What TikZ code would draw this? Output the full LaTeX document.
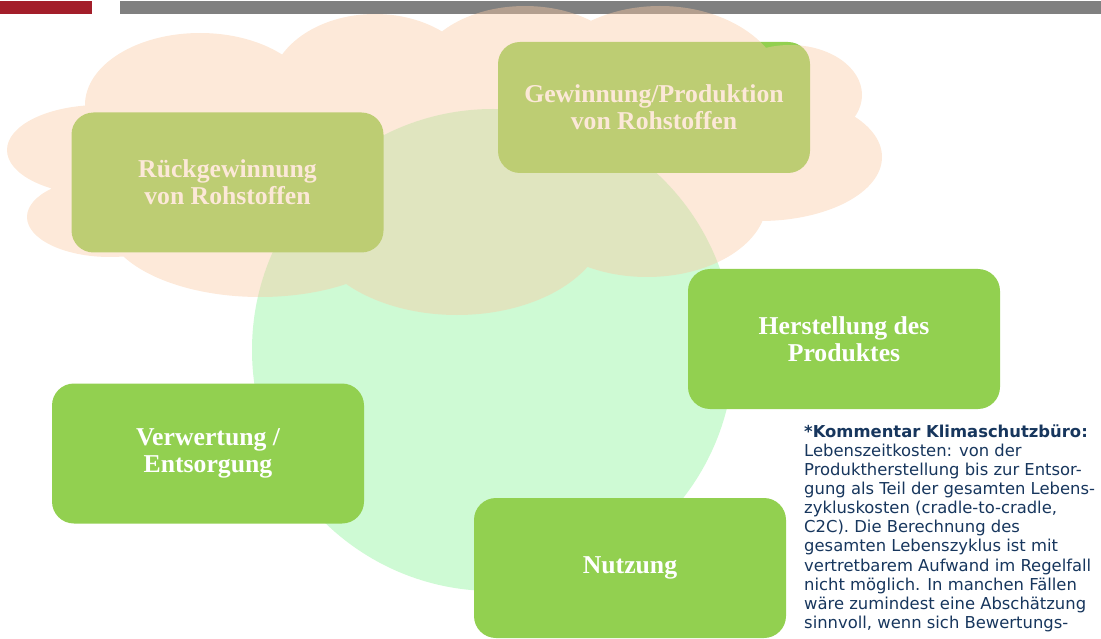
\documentclass[tikz,border=0pt]{standalone}
\usepackage{fontspec}
\setmainfont{Liberation Serif}
\newfontfamily\commentfont{DejaVu Sans}
\definecolor{redbar}{RGB}{163,30,42}
\definecolor{graybar}{RGB}{128,128,128}
\definecolor{circlecol}{RGB}{206,250,212}
\definecolor{boxgreen}{RGB}{146,208,80}
\definecolor{cloudcol}{RGB}{250,202,164}
\definecolor{navy}{RGB}{23,54,93}
\tikzset{
  stagebox/.style={fill=boxgreen, rounded corners=22pt, minimum width=312pt,
    minimum height=140pt, inner sep=0pt, align=center, text=white,
    font=\fontsize{25.7}{27}\selectfont\bfseries},
  bar/.style={draw=none},
}
\begin{document}
\begin{tikzpicture}[x=1pt,y=-1pt]
\useasboundingbox (0,0) rectangle (1101,639);
% top bars
\fill[redbar] (0,1) rectangle (92,14);
\fill[graybar] (120,1) rectangle (1101,14);
% circle
\fill[circlecol] (493,350) circle [radius=241];
% upper boxes (beneath the cloud)
\node[stagebox, minimum height=131pt] (gew) at (654,107.5) {Gewinnung/Produktion\\von Rohstoffen};
\node[stagebox] (rueck) at (227.5,182.5) {Rückgewinnung\\von Rohstoffen};
% cloud
\fill[cloudcol, fill opacity=0.42]
  (200,105) ellipse [x radius=115, y radius=72]
  (375,90) ellipse [x radius=105, y radius=76]
  (525,80) ellipse [x radius=110, y radius=74]
  (660,95) ellipse [x radius=125, y radius=89]
  (790,95) ellipse [x radius=72, y radius=50]
  (760,157) ellipse [x radius=122, y radius=64]
  (647,200) ellipse [x radius=120, y radius=77]
  (457,220) ellipse [x radius=150, y radius=95]
  (260,220) ellipse [x radius=155, y radius=77]
  (110,217) ellipse [x radius=83, y radius=40]
  (100,150) ellipse [x radius=93, y radius=45]
  (470,150) ellipse [x radius=360, y radius=110];
% other boxes
\node[stagebox] (herst) at (844,339) {Herstellung des\\Produktes};
\node[stagebox] (verw) at (208,453.5) {Verwertung /\\Entsorgung};
\node[stagebox] (nutz) at (630,568) {Nutzung};
% comment
\node[anchor=north west, inner sep=0pt, align=left, text=navy,
  font=\commentfont\fontsize{16.4}{19.1}\selectfont] (comment) at (804,424.5)
  {\textbf{*Kommentar Klimaschutzbüro:}\\
   Lebenszeitkosten: von der\\
   Produktherstellung bis zur Entsor-\\
   gung als Teil der gesamten Lebens-\\
   zykluskosten (cradle-to-cradle,\\
   C2C). Die Berechnung des\\
   gesamten Lebenszyklus ist mit\\
   vertretbarem Aufwand im Regelfall\\
   nicht möglich. In manchen Fällen\\
   wäre zumindest eine Abschätzung\\
   sinnvoll, wenn sich Bewertungs-};
\end{tikzpicture}
\end{document}
